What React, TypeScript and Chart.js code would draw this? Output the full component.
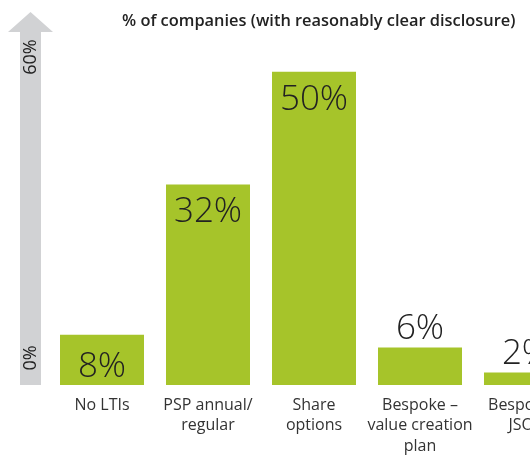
import React, { useEffect, useRef } from 'react';
import { Chart, registerables } from 'chart.js';

Chart.register(...registerables);

const categories: string[][] = [
  ['No LTIs'],
  ['PSP annual/', 'regular'],
  ['Share', 'options'],
  ['Bespoke –', 'value creation', 'plan'],
  ['Bespoke –', 'JSOP'],
];
const values = [8, 32, 50, 6, 2];
const valueLabels = ['8%', '32%', '50%', '6%', '2%'];
const yTickLabels = ['0%', '60%'];
const yMin = 0;
const yMax = 60;
const title = '% of companies (with reasonably clear disclosure)';

const GREEN = '#a6c42a';
const TEXT = '#222222';
const FONT = '"Open Sans", "DejaVu Sans", sans-serif';

const decor = {
  id: 'decor',
  beforeDatasetsDraw(chart: any) {
    const ctx = chart.ctx as CanvasRenderingContext2D;
    const ys = chart.scales.y;
    const y0 = ys.getPixelForValue(yMin);
    const yTop = ys.getPixelForValue(yMax);
    ctx.save();
    // grey arrow axis
    ctx.fillStyle = '#d1d2d4';
    ctx.beginPath();
    ctx.moveTo(20, y0);
    ctx.lineTo(20, yTop + 23);
    ctx.lineTo(8, yTop + 23);
    ctx.lineTo(30.5, yTop + 3);
    ctx.lineTo(53, yTop + 23);
    ctx.lineTo(41, yTop + 23);
    ctx.lineTo(41, y0);
    ctx.closePath();
    ctx.fill();
    // axis end labels
    ctx.fillStyle = TEXT;
    ctx.font = `18px ${FONT}`;
    ctx.textAlign = 'center';
    ctx.textBaseline = 'middle';
    const pos = [y0 - 27, yTop + 48];
    yTickLabels.forEach((t, i) => {
      ctx.save();
      ctx.translate(31, pos[i]);
      ctx.rotate(-Math.PI / 2);
      ctx.fillText(t, 0, 0);
      ctx.restore();
    });
    // title
    ctx.font = `600 16.4px ${FONT}`;
    ctx.textAlign = 'left';
    ctx.textBaseline = 'alphabetic';
    ctx.fillStyle = TEXT;
    ctx.fillText(title, 122, 26);
    ctx.restore();
  },
  afterDatasetsDraw(chart: any) {
    const ctx = chart.ctx as CanvasRenderingContext2D;
    const meta = chart.getDatasetMeta(0);
    ctx.save();
    ctx.font = `300 35px ${FONT}`;
    ctx.fillStyle = TEXT;
    ctx.textAlign = 'center';
    ctx.textBaseline = 'alphabetic';
    meta.data.forEach((bar: any, i: number) => {
      const h = bar.base - bar.y;
      const y = h > 45 ? bar.y + (h < 80 ? 42 : 38) : bar.y - 8;
      ctx.fillText(valueLabels[i], bar.x, y);
    });
    ctx.restore();
  },
};

export default function App() {
  const ref = useRef<HTMLCanvasElement>(null);
  useEffect(() => {
    if (!ref.current) return;
    const chart = new Chart(ref.current, {
      type: 'bar',
      data: {
        labels: categories,
        datasets: [
          {
            data: values,
            backgroundColor: GREEN,
            borderWidth: 0,
            barPercentage: 84 / 106,
            categoryPercentage: 1,
          },
        ],
      },
      options: {
        responsive: false,
        animation: false,
        layout: { padding: { left: 49, right: 21, top: 9, bottom: 0 } },
        plugins: {
          legend: { display: false },
          tooltip: { enabled: false },
          title: { display: false },
        },
        scales: {
          x: {
            grid: { display: false, drawTicks: false },
            border: { display: false },
            ticks: {
              color: '#333333',
              font: { family: FONT, size: 16, lineHeight: 1.28 },
              padding: 10,
              maxRotation: 0,
              autoSkip: false,
            },
            afterFit: (scale: any) => {
              scale.height = 73;
            },
          },
          y: {
            display: false,
            min: yMin,
            max: yMax,
          },
        },
      },
      plugins: [decor],
    });
    return () => chart.destroy();
  }, []);
  return (
    <div style={{ position: 'fixed', left: 0, top: 0, width: 530, height: 458, overflow: 'hidden', background: '#fff' }}>
      <canvas ref={ref} width={600} height={458} style={{ width: 600, height: 458, display: 'block' }} />
    </div>
  );
}
